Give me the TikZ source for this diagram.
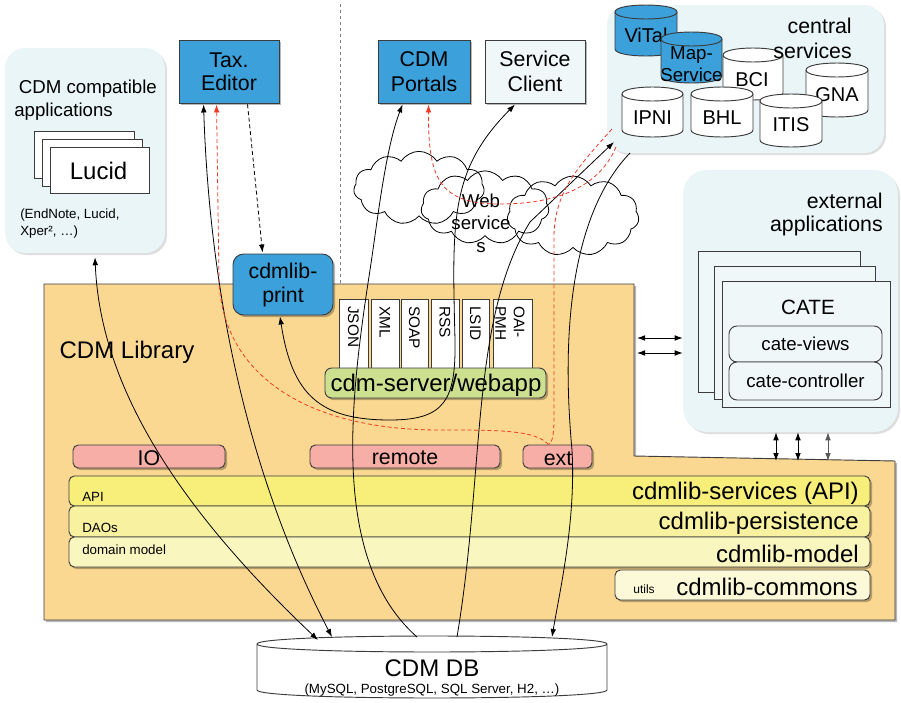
\documentclass[tikz,border=0pt]{standalone}
\usepackage{fontspec}
\setmainfont{Liberation Sans}
\usetikzlibrary{arrows.meta,shapes.symbols,fit,calc,shadows}
\definecolor{cblue}{RGB}{60,160,218}
\definecolor{clight}{RGB}{234,245,247}
\definecolor{clightb}{RGB}{240,247,249}
\definecolor{corange}{RGB}{251,216,145}
\definecolor{cpink}{RGB}{246,174,166}
\definecolor{cgreen}{RGB}{205,224,143}
\definecolor{cyelA}{RGB}{247,239,122}
\definecolor{cyelB}{RGB}{248,242,160}
\definecolor{cyelC}{RGB}{250,246,192}
\definecolor{cyelD}{RGB}{251,249,216}
\definecolor{cred}{RGB}{238,58,40}
\definecolor{cedge}{RGB}{60,60,60}
\newcommand{\fsz}[2]{\fontsize{#1}{#2}\selectfont}
\newcommand{\dbcyl}[6]{%
  \filldraw[fill=#6, draw=cedge, line width=0.7pt] (#1,#3) -- (#1,#4) .. controls (#1,#4+4/3*#5) and (#2,#4+4/3*#5) .. (#2,#4) -- (#2,#3) .. controls (#2,#3-4/3*#5) and (#1,#3-4/3*#5) .. (#1,#3) -- cycle;
  \draw[draw=cedge, line width=0.7pt] (#1,#3) .. controls (#1,#3+4/3*#5) and (#2,#3+4/3*#5) .. (#2,#3);}
\tikzset{
  bx/.style={draw=cedge, line width=0.7pt, inner sep=0pt, align=center},
  shad/.style={drop shadow={shadow xshift=1.6pt, shadow yshift=-1.6pt, opacity=0.28, fill=black}},
  lshad/.style={drop shadow={shadow xshift=1.5pt, shadow yshift=-1.5pt, opacity=0.13, fill=black}},
  lbox/.style={fill=clight, draw=none, inner sep=0pt, lshad},
  bluebox/.style={bx, fill=cblue, shad},
  card/.style={bx, fill=white},
  txt/.style={inner sep=0pt, align=center},
  conn/.style={line width=0.6pt, draw=black},
  tipe/.style={-{Latex[length=6pt,width=4.2pt]}},
  tipb/.style={{Latex[length=6pt,width=4.2pt]}-{Latex[length=6pt,width=4.2pt]}},
  rdash/.style={line width=0.6pt, draw=cred, dash pattern=on 3pt off 2pt},
  cloudy/.style={cloud, cloud puffs=11, cloud puff arc=115, aspect=1.8, draw=black, line width=0.6pt, inner sep=0pt}
}
\begin{document}
\begin{tikzpicture}[x=0.75pt,y=-0.75pt]
\useasboundingbox (0,0) rectangle (901,703);

% dashed separator
\coordinate (vtop) at (340,4);
\coordinate (vbot) at (340,284);
\draw[gray, dash pattern=on 2.5pt off 2pt, line width=0.6pt] (vtop) -- (vbot);

% CDM library
\draw[fill=corange, draw=cedge, line width=0.7pt, shad] (44,284) -- (634,284) -- (634,456) -- (895,461) -- (895,620) -- (44,620) -- cycle;
\node[txt, font=\fsz{18}{20}] (libtxt) at (127,352) {CDM Library};

% compatible applications
\node[lbox, rounded corners=15pt, fit={(5,48)(165,253)}] (compat) {};
\node[txt, anchor=west, align=left, font=\fsz{14}{17.5}] (compattxt) at (14,100) {\hspace*{3.5pt}CDM compatible\\applications};
\node[card, fit={(34,131)(134,178)}] (card1) {};
\node[card, fit={(42,139)(142,186)}] (card2) {};
\node[card, fit={(50,147)(149,193)}] (lucid) {};
\node[txt, font=\fsz{18}{20}] (lucidlbl) at (98.5,171) {Lucid};
\node[txt, anchor=west, align=left, font=\fsz{10}{12.75}] (compatnote) at (20,224) {(EndNote, Lucid,\\Xper², …)};

% top boxes
\node[bluebox, fit={(179,40)(279,103)}] (tax) {};
\node[txt, font=\fsz{16}{17.5}] (taxlbl) at (tax.center) {Tax.\\Editor};
\node[bluebox, fit={(378,40)(470,103)}] (portals) {};
\node[txt, font=\fsz{16}{18.5}] (portalslbl) at (portals.center) {CDM\\Portals};
\node[bx, shad, fill=clightb, fit={(485,40)(585,103)}] (svc) {};
\node[txt, font=\fsz{16}{18.5}] (svclbl) at (svc.center) {Service\\Client};
\node[bluebox, rounded corners=8pt, fit={(233,254)(333,315)}] (print) {};
\node[txt, font=\fsz{16}{18}] (printlbl) at (print.center) {cdmlib-\\print};

% format boxes
\node[bx, fill=white, fit={(339,299)(368,370)}] (fjson) {};
\node[bx, fill=white, fit={(371,299)(399,370)}] (fxml) {};
\node[bx, fill=white, fit={(401,299)(428,370)}] (fsoap) {};
\node[bx, fill=white, fit={(431,299)(459,370)}] (frss) {};
\node[bx, fill=white, fit={(462,299)(489,370)}] (flsid) {};
\node[bx, fill=white, fit={(493,299)(532,370)}] (foai) {};
\node[txt, rotate=-90, anchor=west, font=\fsz{11.5}{13}] (tjson) at (353.5,306) {JSON};
\node[txt, rotate=-90, anchor=west, font=\fsz{11.5}{13}] (txml) at (385,306) {XML};
\node[txt, rotate=-90, anchor=west, font=\fsz{11.5}{13}] (tsoap) at (414.5,306) {SOAP};
\node[txt, rotate=-90, anchor=west, font=\fsz{11.5}{13}] (trss) at (445,306) {RSS};
\node[txt, rotate=-90, anchor=west, font=\fsz{11.5}{13}] (tlsid) at (475.5,306) {LSID};
\node[txt, rotate=-90, anchor=west, align=left, font=\fsz{11.5}{14}] (toai) at (510,306) {OAI-\\PMH};
\node[bx, shad, fill=cgreen, rounded corners=5pt, fit={(325,368)(546,398)}] (webapp) {};
\node[txt, font=\fsz{18}{20}] (webapplbl) at (436,385) {cdm-server/webapp};

% module boxes
\node[bx, shad, fill=cpink, rounded corners=4pt, fit={(73,445)(225,468)}] (io) {};
\node[txt, font=\fsz{16}{18}] (iolbl) at (149,458) {IO};
\node[bx, shad, fill=cpink, rounded corners=4pt, fit={(310,445)(500,468)}] (remote) {};
\node[txt, font=\fsz{16}{18}] (remotelbl) at (405,458) {remote};
\node[bx, shad, fill=cpink, rounded corners=4pt, fit={(523,445)(592,468)}] (ext) {};
\node[txt, font=\fsz{16}{18}] (extlbl) at (558,459) {ext};

% layers
\node[bx, shad, fill=cyelA, rounded corners=4pt, fit={(69,476)(870,506)}] (lapi) {};
\node[bx, shad, fill=cyelB, rounded corners=4pt, fit={(69,506)(870,537)}] (lpers) {};
\node[bx, shad, fill=cyelC, rounded corners=4pt, fit={(69,537)(870,567)}] (lmodel) {};
\node[bx, shad, fill=cyelD, rounded corners=4pt, fit={(615,570)(870,600)}] (lcommons) {};
\node[txt, anchor=west, font=\fsz{10}{12}] (tapi) at (82,497) {API};
\node[txt, anchor=west, font=\fsz{10}{12}] (tdao) at (82,528) {DAOs};
\node[txt, anchor=west, font=\fsz{10}{12}] (tdom) at (82,550) {domain model};
\node[txt, anchor=east, font=\fsz{18}{20}] (tsvcs) at (859,493) {cdmlib-services (API)};
\node[txt, anchor=east, font=\fsz{18}{20}] (tpers) at (859,523) {cdmlib-persistence};
\node[txt, anchor=east, font=\fsz{18}{20}] (tmodel) at (859,554) {cdmlib-model};
\node[txt, anchor=east, font=\fsz{18}{20}] (tcommons) at (858,587) {cdmlib-commons};
\node[txt, font=\fsz{9}{11}] (tutils) at (644,589) {utils};

% database
\dbcyl{257}{607}{644}{690}{8}{white}
\node[txt, font=\fsz{18}{20}] (db) at (432,668) {CDM DB};
\node[txt, font=\fsz{10}{12}] (dbsub) at (432,690) {(MySQL, PostgreSQL, SQL Server, H2, …)};

% central services
\node[lbox, rounded corners=15pt, fit={(607,5)(884,153)}] (central) {};
\dbcyl{615}{677}{12}{49}{7}{cblue}
\node[txt, font=\fsz{15}{17}] (vital) at (646,35) {ViTal};
\dbcyl{723}{783}{55}{93}{7}{white}
\node[txt, font=\fsz{15}{17}] (bci) at (752,80) {BCI};
\dbcyl{806}{868}{70}{110}{7}{white}
\node[txt, font=\fsz{15}{17}] (gna) at (837,95) {GNA};
\dbcyl{661}{722}{39}{76}{7}{cblue}
\node[txt, font=\fsz{14}{16.5}] (mapsvc) at (691.5,64) {Map-\\Service};
\dbcyl{622}{683}{94}{130}{7}{white}
\node[txt, font=\fsz{15}{17}] (ipni) at (652.5,118) {IPNI};
\dbcyl{691}{753}{94}{130}{7}{white}
\node[txt, font=\fsz{15}{17}] (bhl) at (722,118) {BHL};
\dbcyl{760}{822}{101}{140}{7}{white}
\node[txt, font=\fsz{15}{17}] (itis) at (791,125) {ITIS};
\node[txt, anchor=east, align=right, font=\fsz{16}{18.75}] (centraltxt) at (852,38) {central\\services};

% external applications
\node[lbox, rounded corners=18pt, fit={(683,170)(898,432)}] (extapps) {};
\node[txt, anchor=east, align=right, font=\fsz{16}{17.25}] (exttxt) at (883,214) {external\\applications};
\node[bx, fill=clightb, fit={(698,251)(860,392)}] (cate1) {};
\node[bx, fill=clightb, fit={(714,266)(875,399)}] (cate2) {};
\node[bx, fill=clightb, fit={(722,281)(890,407)}] (cate3) {};
\node[txt, font=\fsz{15.5}{17}] (catetxt) at (808,307) {CATE};
\node[bx, fill=clightb, rounded corners=6pt, fit={(729,326)(882,362)}] (views) {};
\node[txt, font=\fsz{14}{16}] (viewslbl) at (views.center) {cate-views};
\node[bx, fill=clightb, rounded corners=6pt, fit={(729,362)(882,400)}] (ctrl) {};
\node[txt, font=\fsz{14}{16}] (ctrllbl) at (ctrl.center) {cate-controller};

% library <-> external applications
\coordinate (h1) at (637,338);
\coordinate (h2) at (637,353);
\draw[conn, tipb] (h1) -- (h1 -| extapps.west);
\draw[conn, tipb] (h2) -- (h2 -| extapps.west);
\coordinate (v1) at (776,461);
\coordinate (v2) at (798,461);
\coordinate (v3) at (828,461);
\draw[conn, tipb] (v1) -- (v1 |- extapps.south);
\draw[conn, tipb] (v2) -- (v2 |- extapps.south);
\draw[conn, tipb, draw=black!65] (v3) -- (v3 |- extapps.south);

% web services clouds
\node[cloudy, minimum width=98pt, minimum height=55pt] (cloud1) at (419,188) {};
\node[cloudy, minimum width=96pt, minimum height=55pt] (cloud2) at (485,207.5) {};
\node[cloudy, minimum width=99pt, minimum height=60pt] (cloud3) at (573,216) {};
\node[txt, font=\fsz{14}{17}] (webtxt) at (481,223) {Web\\service\\s};

% endpoints
\coordinate (dbA) at (318,640);
\coordinate (dbB) at (332,637);
\coordinate (dbC) at (417,637);
\coordinate (dbD) at (457,637);
\coordinate (dbE) at (552,637);
\coordinate (csA) at (614,142);
\coordinate (csB) at (630,153);
\coordinate (csC) at (616,147);
\coordinate (csD) at (612,129);

% black connectors
\draw[conn, tipb] ($(compat.south)+(10,4)$) .. controls (100,380) and (170,500) .. (dbA);
\draw[conn, tipb] ($(tax.south west)+(25,1)$) .. controls (210,300) and (250,480) .. (dbB);
\draw[conn, tipe] (dbC) .. controls (330,560) and (350,400) .. (370,270) .. controls (377,225) and (385,150) .. ($(portals.south west)+(25,1)$);
\draw[conn, tipb] ($(print.south)+(-3,1)$) .. controls (292,395) and (320,420) .. (390,420) .. controls (445,420) and (456,400) .. (455,340) .. controls (452,220) and (450,170) .. ($(svc.south)+(-20,1)$);
\draw[conn, tipe] (dbD) .. controls (485,470) and (470,320) .. (530,222) -- (csA);
\draw[conn, tipe] (csB) .. controls (575,210) and (560,320) .. (572,450) .. controls (576,520) and (560,590) .. (dbE);
\draw[conn, tipe, dash pattern=on 3pt off 2pt] ($(tax.south west)+(69,1)$) -- ($(print.north west)+(30,-1)$);

% red dashed connectors
\draw[rdash, tipe] (csC) .. controls (600,185) and (560,204) .. (500,204) .. controls (440,204) and (428,180) .. ($(portals.south west)+(51,1)$);
\draw[rdash] (csD) .. controls (580,165) and (555,190) .. (554,235) -- (554,420) .. controls (554,438) and (551,444) .. ($(ext.north)+(-9,0)$);
\draw[rdash, tipe] ($(ext.north)+(-9,0)$) .. controls (535,430) and (500,430) .. (440,430) .. controls (300,430) and (222,370) .. (219,280) -- ($(tax.south west)+(38,1)$);
\end{tikzpicture}
\end{document}
